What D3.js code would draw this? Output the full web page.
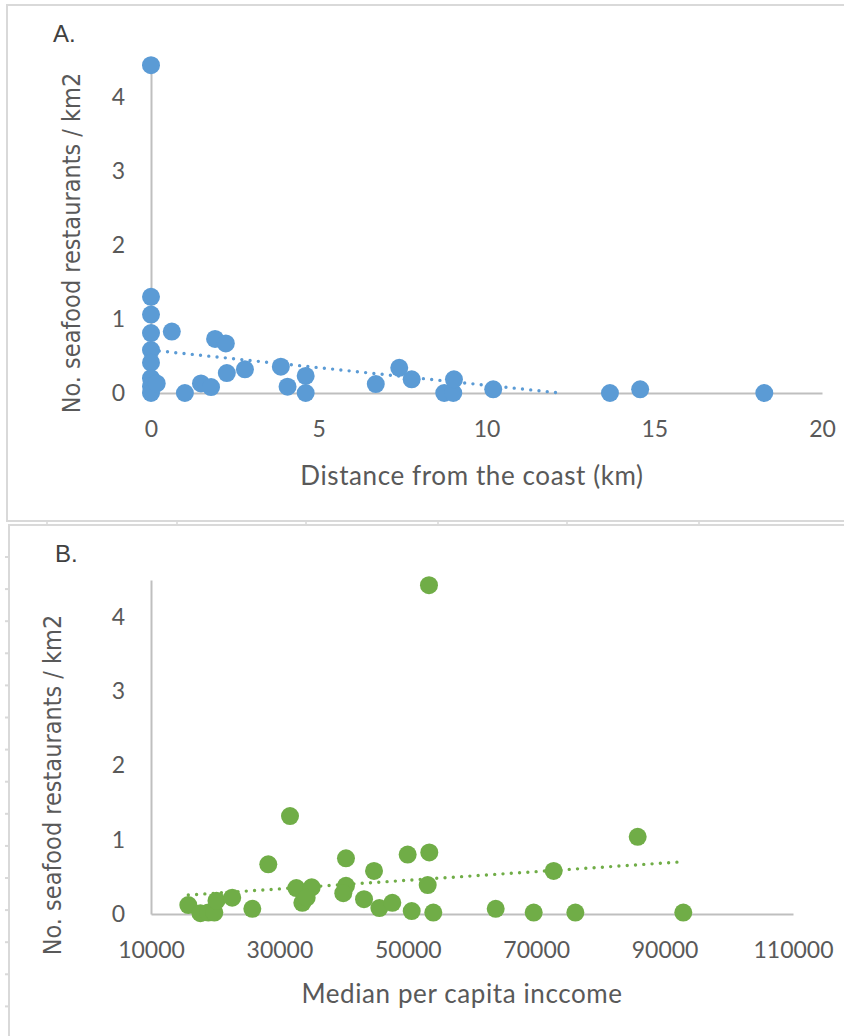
<!DOCTYPE html>
<html>
<head>
<meta charset="utf-8">
<script src="https://cdn.jsdelivr.net/npm/d3@7"></script>
<style>
  body { margin: 0; background: #fff; }
  .tick text { fill: #595959; font-family: Lato, "Open Sans", sans-serif; font-size: 23px; }
  .domain { stroke: #bfbfbf; stroke-width: 2; }
</style>
</head>
<body>
<svg id="chart" width="844" height="1036"></svg>
<script>
// A. distance from the coast (km) vs seafood restaurants / km2
var distKm = [0, 0, 0, 0, 0, 0, 0, 0, 0, 0.17, 0.62, 1.01, 1.49, 1.79, 1.91, 2.23,
              2.26, 2.80, 3.87, 4.07, 4.61, 4.61, 6.70, 7.40, 7.77, 8.74, 9.01, 9.03,
              10.2, 13.68, 14.58, 18.28];
var densA  = [4.43, 1.30, 1.06, 0.81, 0.58, 0.41, 0.20, 0.09, 0, 0.13, 0.83, 0, 0.13, 0.08, 0.73, 0.67,
              0.27, 0.32, 0.355, 0.085, 0.23, 0, 0.12, 0.34, 0.185, 0, 0, 0.185,
              0.05, 0, 0.05, 0];

// B. median per capita income vs seafood restaurants / km2
var income = [15810, 17700, 18930, 19860, 20200, 22650, 25780, 28270, 31650, 32640, 35030, 33570,
              34250, 40370, 40370, 39950, 43180, 44740, 45570, 47590, 49980, 50610, 53350, 53100,
              53970, 53300, 63690, 69610, 72720, 76100, 85810, 92910];
var densB  = [0.12, 0.01, 0.02, 0.02, 0.18, 0.22, 0.07, 0.67, 1.32, 0.35, 0.36, 0.15,
              0.22, 0.75, 0.38, 0.28, 0.20, 0.58, 0.08, 0.15, 0.80, 0.04, 0.83, 0.39,
              0.02, 4.43, 0.07, 0.02, 0.58, 0.02, 1.04, 0.02];

// linear trendlines (end points)
var trendAx = [0, 12.2],      trendAy = [0.58, 0];
var trendBx = [15810, 93070], trendBy = [0.256, 0.705];

var ticksA = [0, 5, 10, 15, 20];
var ticksB = [10000, 30000, 50000, 70000, 90000, 110000];
var ticksY = [0, 1, 2, 3, 4];

var svg = d3.select("#chart");

// spreadsheet frames around the two pictures
var frame = svg.append("g").attr("stroke", "#d9d9d9").attr("stroke-width", 2).attr("fill", "none");
frame.append("path").attr("d", "M7,522V5H844");
frame.append("path").attr("d", "M7,521H844");
frame.append("path").attr("d", "M9,1036V525H844");
[47, 177, 306, 438, 567, 699].forEach(function(x) {
  frame.append("line").attr("x1", x).attr("x2", x).attr("y1", 521).attr("y2", 525).attr("stroke-width", 1.5);
});
d3.range(557, 1036, 32.1).forEach(function(y) {
  frame.append("line").attr("x1", 5).attr("x2", 9).attr("y1", y).attr("y2", y).attr("stroke-width", 2);
});

function drawPanel(o) {
  var g = svg.append("g");
  var x = d3.scaleLinear().domain(o.xDomain).range(o.xRange);
  var y = d3.scaleLinear().domain([0, 4.5]).range(o.yRange);

  g.append("g")
    .attr("transform", "translate(0," + y(0) + ")")
    .call(d3.axisBottom(x).tickValues(o.xTicks).tickSize(0).tickSizeOuter(0).tickPadding(28).tickFormat(d3.format("d")));

  g.append("g")
    .attr("transform", "translate(" + x(o.xDomain[0]) + ",0)")
    .call(d3.axisLeft(y).tickValues(ticksY).tickSize(0).tickSizeOuter(0).tickPadding(26).tickFormat(d3.format("d")));

  // trendline
  g.append("line")
    .attr("x1", x(o.tx[0])).attr("y1", y(o.ty[0]))
    .attr("x2", x(o.tx[1])).attr("y2", y(o.ty[1]))
    .attr("stroke", o.color).attr("stroke-width", 3.4)
    .attr("stroke-linecap", "round").attr("stroke-dasharray", "0 8.3");

  g.selectAll(".dot")
    .data(d3.zip(o.xs, o.ys))
    .enter().append("circle")
    .attr("class", "dot")
    .attr("cx", function(d) { return x(d[0]); })
    .attr("cy", function(d) { return y(d[1]); })
    .attr("r", 9)
    .attr("fill", o.color);

  g.append("text")
    .attr("x", o.label[1]).attr("y", o.label[2])
    .attr("font-family", "'Liberation Sans', Arial, sans-serif").attr("font-size", 24)
    .attr("fill", "#404040")
    .text(o.label[0]);

  g.append("text")
    .attr("x", o.xTitlePos[0]).attr("y", o.xTitlePos[1])
    .attr("text-anchor", "middle")
    .attr("font-family", "Lato, sans-serif").attr("font-size", 26)
    .attr("letter-spacing", 0.6)
    .attr("fill", "#595959")
    .text(o.xTitle);

  g.append("text")
    .attr("transform", "translate(" + o.yTitlePos[0] + "," + o.yTitlePos[1] + ") rotate(-90)")
    .attr("text-anchor", "middle")
    .attr("font-family", "'DejaVu Sans Condensed', 'DejaVu Sans', sans-serif").attr("font-size", 25)
    .attr("fill", "#595959")
    .text("No. seafood restaurants / km2");
}

drawPanel({
  xs: distKm, ys: densA, color: "#5b9bd5",
  xDomain: [0, 20], xRange: [151, 822], yRange: [393, 60], xTicks: ticksA,
  tx: trendAx, ty: trendAy,
  label: ["A.", 53, 42],
  xTitle: "Distance from the coast (km)", xTitlePos: [472, 485],
  yTitlePos: [80, 243]
});

drawPanel({
  xs: income, ys: densB, color: "#70ad47",
  xDomain: [10000, 110000], xRange: [151, 793], yRange: [914, 580], xTicks: ticksB,
  tx: trendBx, ty: trendBy,
  label: ["B.", 55, 562],
  xTitle: "Median per capita inccome", xTitlePos: [462, 1003],
  yTitlePos: [61, 785]
});
</script>
</body>
</html>
